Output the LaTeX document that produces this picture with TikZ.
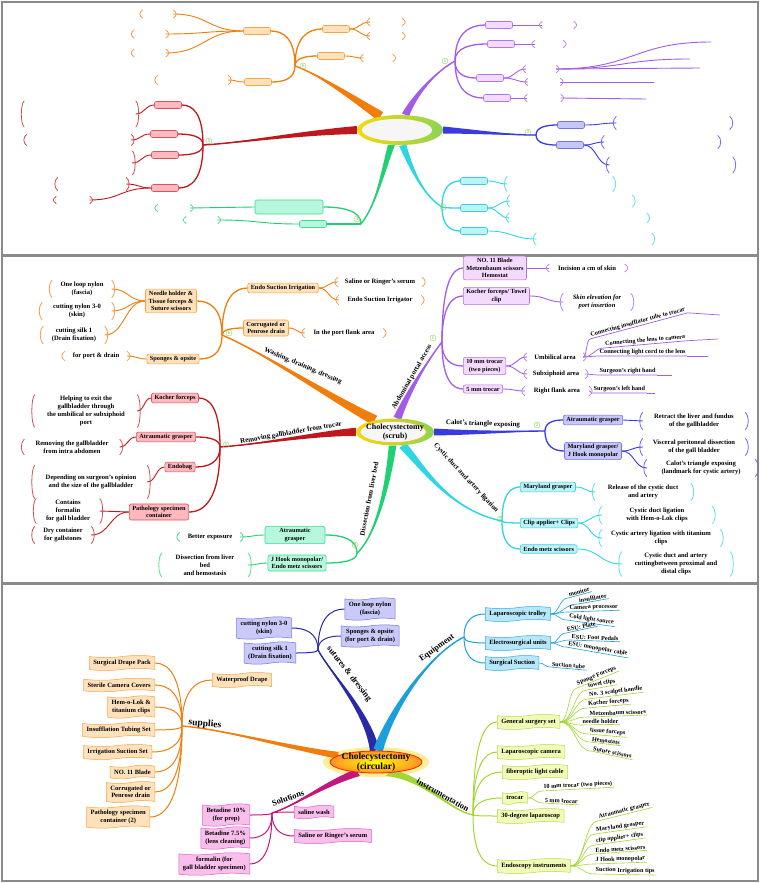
\documentclass[tikz,border=0pt]{standalone}
\usepackage{fontspec}
\setmainfont{Liberation Serif}
\usepackage{tikz}
\usetikzlibrary{calc,positioning,shapes.geometric,shapes.symbols,backgrounds}
\definecolor{clOr}{HTML}{F07D0C}
\definecolor{clOrF}{HTML}{FFE2BC}
\definecolor{clOrB}{HTML}{F5A449}
\definecolor{clRd}{HTML}{BE171D}
\definecolor{clRdF}{HTML}{FFB9BE}
\definecolor{clRdB}{HTML}{D9535C}
\definecolor{clGn}{HTML}{1FD173}
\definecolor{clGnF}{HTML}{B6F7DD}
\definecolor{clGnB}{HTML}{3FD98F}
\definecolor{clPu}{HTML}{A35CE8}
\definecolor{clPuF}{HTML}{F5DAFF}
\definecolor{clPuB}{HTML}{B374E6}
\definecolor{clBl}{HTML}{3A3ADF}
\definecolor{clBlF}{HTML}{C6C6F7}
\definecolor{clBlB}{HTML}{7272EA}
\definecolor{clCy}{HTML}{2ED6E3}
\definecolor{clCyF}{HTML}{BAF4F9}
\definecolor{clCyB}{HTML}{3FCBE0}
\definecolor{clNv}{HTML}{2A2AA6}
\definecolor{clNvF}{HTML}{C9C9FA}
\definecolor{clNvB}{HTML}{7474E0}
\definecolor{clEq}{HTML}{1C9FDB}
\definecolor{clEqF}{HTML}{B6E7FA}
\definecolor{clEqB}{HTML}{3CA7DA}
\definecolor{clMg}{HTML}{C4177B}
\definecolor{clMgF}{HTML}{F9BEEC}
\definecolor{clMgB}{HTML}{D862C2}
\definecolor{clIn}{HTML}{A3D632}
\definecolor{clInF}{HTML}{F1FAB6}
\definecolor{clInB}{HTML}{B6DC52}
\definecolor{clYe}{HTML}{F6D80E}
\definecolor{clLg}{HTML}{8CD455}
\definecolor{clNum}{HTML}{8FCF63}
\definecolor{clFrame}{HTML}{8A8A8A}
\newcommand\fntbox{\fontsize{6.3}{7.6}\selectfont\bfseries}
\newcommand\fntbrk{\fontsize{6.6}{7.8}\selectfont\bfseries}
\newcommand\fntleaf{\fontsize{6.2}{7}\selectfont\bfseries}
\newcommand\fnttape{\fontsize{6.5}{7.4}\selectfont\bfseries}
\newcommand\fntlbl{\fontsize{7}{8}\selectfont\bfseries}
\newcommand\fntbranch{\fontsize{8.5}{9}\selectfont\bfseries}
% tapered main branch: colour, start, control 1, control 2, hub, half width
\newcommand\taper[6]{%
  \fill[#1] ($(#2)+(#6)$) .. controls ($(#3)+0.5*(#6)$) and ($(#4)+0.15*(#6)$) .. (#5)
    .. controls ($(#4)-0.15*(#6)$) and ($(#3)-0.5*(#6)$) .. ($(#2)-(#6)$) -- cycle;
  \draw[#1, line width=1.4pt] (#2) .. controls (#3) and (#4) .. (#5);}
\tikzset{
  box/.style={rectangle, rounded corners=2pt, draw, line width=0.6pt, align=center,
              inner xsep=3pt, inner ysep=2pt, font=\fntbox},
  obox/.style={box, draw=clOrB, fill=clOrF},
  rbox/.style={box, draw=clRdB, fill=clRdF},
  gbox/.style={box, draw=clGnB, fill=clGnF},
  pbox/.style={box, draw=clPuB, fill=clPuF},
  bbox/.style={box, draw=clBlB, fill=clBlF},
  cbox/.style={box, draw=clCyB, fill=clCyF},
  stub/.style={minimum width=27pt, minimum height=7pt, inner sep=0pt},
  tapebox/.style={tape, tape bend top=in and out, tape bend bottom=in and out,
              tape bend height=2pt, draw, line width=0.5pt, align=center,
              inner xsep=4pt, inner ysep=2.5pt, font=\fnttape},
  navtape/.style={tapebox, draw=clNvB, fill=clNvF},
  eqtape/.style={tapebox, draw=clEqB, fill=clEqF},
  suptape/.style={tapebox, draw=clOrB, fill=clOrF},
  soltape/.style={tapebox, draw=clMgB, fill=clMgF},
  instape/.style={tapebox, draw=clInB, fill=clInF},
  brk/.style={align=center, inner xsep=3pt, inner ysep=1.5pt, font=\fntbrk,
              append after command={
                (\tikzlastnode.north west) edge[brkln=#1, lparen] (\tikzlastnode.south west)
                (\tikzlastnode.north east) edge[brkln=#1, rparen] (\tikzlastnode.south east)}},
  brkr/.style={align=center, inner sep=1.5pt,
              append after command={
                (\tikzlastnode.north east) edge[brkln=#1, rparen] (\tikzlastnode.south east)}},
  brkln/.style={draw=#1!75, line width=0.8pt},
  lparen/.style={to path={.. controls +(-4,3) and +(-4,-3) .. (\tikztotarget)}},
  rparen/.style={to path={.. controls +(4,3) and +(4,-3) .. (\tikztotarget)}},
  link/.style={draw=#1, line width=1.3pt},
  twig/.style={draw=#1, line width=0.9pt},
  elb/.style={to path={.. controls ($(\tikztostart)!0.8!(\tikztostart|-\tikztotarget)$)
              and ($(\tikztotarget)!0.5!(\tikztostart|-\tikztotarget)$) .. (\tikztotarget)}},
  scv/.style={to path={.. controls ($(\tikztostart)!0.5!(\tikztotarget|-\tikztostart)$)
              and ($(\tikztotarget)!0.5!(\tikztostart|-\tikztotarget)$) .. (\tikztotarget)}},
  num/.style={circle, draw=clNum, text=clNum, line width=0.4pt, inner sep=0pt,
              minimum size=6pt, font=\fontsize{4.5}{4.5}\selectfont\bfseries},
  blbl/.style={font=\fntlbl, inner sep=1pt},
  brlbl/.style={font=\fntbranch, inner sep=1pt},
  leaf/.style={font=\fntleaf, inner xsep=1.5pt, inner ysep=0.8pt, anchor=south west},
}
\begin{document}
\begin{tikzpicture}[x=1pt, y=-1pt]
  \useasboundingbox (0,0) rectangle (760,883);
  \draw[clFrame, line width=1.6pt] (2,2) rectangle (758,255);
  \draw[clFrame, line width=1.6pt] (2,256) rectangle (758,583);
  \draw[clFrame, line width=1.6pt] (2,584) rectangle (758,881);

  % ---------- panel 1: empty template ----------
  \node[ellipse, minimum width=86pt, minimum height=30pt, left color=clYe, right color=clLg,
    path picture={\fill[gray!7] ([xshift=-3pt]path picture bounding box.center) ellipse [x radius=35pt, y radius=11pt];}] (ctr1) at (400,130) {};
  \coordinate (h1o) at (295,66);  \coordinate (h1r) at (203,145);
  \coordinate (h1g) at (361,224); \coordinate (h1p) at (455,61);
  \coordinate (h1b) at (536,135); \coordinate (h1c) at (442,207);
  \node[num] (n1o) at (303,66) {6};  \node[num] (n1r) at (209,141) {5};
  \node[num] (n1g) at (357,219) {4}; \node[num] (n1p) at (445,61) {1};
  \node[num] (n1b) at (528,132) {2}; \node[num] (n1c) at (443,207) {3};
  \foreach \n/\x/\y in {b1o1/257/31, b1o2/336/29, b1o3/331/56, b1o4/258/82}
    \node[obox, stub] (\n) at (\x,\y) {};
  \foreach \n/\x/\y in {b1r1/168/105, b1r2/164/134, b1r3/165/155, b1r4/165/188}
    \node[rbox, stub] (\n) at (\x,\y) {};
  \node[gbox, stub, minimum width=68pt, minimum height=14pt] (b1g1) at (289,207) {};
  \node[gbox, stub] (b1g2) at (313,224) {};
  \foreach \n/\x/\y in {b1p1/499/25, b1p2/501/44, b1p3/490/78, b1p4/497/98}
    \node[pbox, stub] (\n) at (\x,\y) {};
  \foreach \n/\x/\y in {b1b1/571/125, b1b2/570/145}
    \node[bbox, stub] (\n) at (\x,\y) {};
  \foreach \n/\x/\y in {b1c1/474/181, b1c2/474/208, b1c3/474/231}
    \node[cbox, stub] (\n) at (\x,\y) {};
  \foreach \n/\x/\y/\w/\h in {k1o1a/158/14/30/8, k1o1b/150/34/31/8, k1o1c/150/53/31/8,
      k1o2a/386/22/32/7, k1o2b/386/36/32/7, k1o3/378/58/29/7, k1o4/193/80/70/9}
    \node[brk=clOr, minimum width=\w pt, minimum height=\h pt] (\n) at (\x,\y) {};
  \foreach \n/\x/\y/\w/\h in {k1r1/80/114/111/26, k1r2/79/140/104/11, k1r4a/92/184/68/13, k1r4b/73/200/33/7}
    \node[brk=clRd, minimum width=\w pt, minimum height=\h pt] (\n) at (\x,\y) {};
  \node[brkr=clRd, minimum width=84pt, minimum height=24pt] (k1r3) at (90,163) {};
  \foreach \n/\x/\y/\w/\h in {k1g1/174/208/32/7, k1g2/202/220/31/7}
    \node[brk=clGn, minimum width=\w pt, minimum height=\h pt] (\n) at (\x,\y) {};
  \foreach \n/\x/\y/\w/\h in {k1p1/558/25/31/7, k1p2/549/44/28/7, k1p3a/541/69/30/7, k1p3b/544/82/32/7, k1p4/544/98/33/7}
    \node[brk=clPu, minimum width=\w pt, minimum height=\h pt] (\n) at (\x,\y) {};
  \foreach \n/\x/\y/\w/\h in {k1b1/673/123/113/13, k1b2a/661/142/113/13, k1b2b/671/165/123/16}
    \node[brk=clBl, minimum width=\w pt, minimum height=\h pt] (\n) at (\x,\y) {};
  \foreach \n/\x/\y/\w/\h in {k1c1/560/184/105/15, k1c2a/571/201/122/12, k1c2b/578/218/137/10, k1c3/594/239/115/12}
    \node[brk=clCy, minimum width=\w pt, minimum height=\h pt] (\n) at (\x,\y) {};
  \coordinate (e1p1) at (711,42); \coordinate (e1p2) at (690,59); \coordinate (e1p3) at (700,68);
  \coordinate (e1p4) at (654,82); \coordinate (e1p5) at (646,99);

  % ---------- panel 2: scrub ----------
  \node[ellipse, minimum width=78pt, minimum height=27pt, left color=clYe, right color=clLg,
    path picture={\fill[gray!7] ([xshift=-2pt]path picture bounding box.center) ellipse [x radius=33pt, y radius=10.5pt];
      \draw[clYe!70!orange, line width=0.5pt] ([xshift=-2pt]path picture bounding box.center) ellipse [x radius=33pt, y radius=10.5pt];}] (ctr2) at (395,432) {};
  \node[font=\fontsize{8}{8.6}\selectfont\bfseries, align=center, inner sep=0pt] (t2c) at (ctr2) {Cholecystectomy\\(scrub)};
  \coordinate (h2o) at (222,335); \coordinate (h2r) at (220,447);
  \coordinate (h2g) at (357,553); \coordinate (h2p) at (442,342);
  \coordinate (h2b) at (545,431); \coordinate (h2c) at (502,521);
  \node[num] (n2o) at (229,333) {6}; \node[num] (n2r) at (226,445) {5};
  \node[num] (n2g) at (355,545) {4}; \node[num] (n2p) at (433,338) {1};
  \node[num] (n2b) at (537,425) {2}; \node[num] (n2c) at (500,519) {3};
  \node[blbl, rotate=-23] (t2o) at (303,366) {Washing, draining, dressing};
  \node[blbl, rotate=60] (t2p) at (412,377) {Abdominal portal access};
  \node[blbl, rotate=-2] (t2b) at (483,424) {Calot's triangle exposing};
  \node[blbl, rotate=-47] (t2cy) at (466,478) {Cystic duct and artery ligation};
  \node[blbl, rotate=79] (t2g) at (369,499) {Dissection from liver bed};
  \node[blbl, rotate=10] (t2r) at (291,433) {Removing gallbladder from trocar};
  % orange
  \node[obox] (b2o1) at (283,288) {Endo Suction Irrigation};
  \node[obox] (b2o2) at (266,328) {Corrugated or\\Penrose drain};
  \node[obox] (b2o3) at (171,301) {Needle holder \&\\Tissue forceps \&\\Suture scissors};
  \node[obox] (b2o4) at (173,359) {Sponges \& opsite};
  \node[brk=clOr, minimum width=84pt] (k2o1a) at (380,282) {Saline or Ringer's serum};
  \node[brk=clOr, minimum width=82pt] (k2o1b) at (380,300) {Endo Suction Irrigator};
  \node[brk=clOr, minimum width=78pt] (k2o2) at (344,333) {In the port flank area};
  \node[brk=clOr, minimum width=59pt] (k2o3a) at (82,289) {One loop nylon\\(fascia)};
  \node[brk=clOr, minimum width=69pt] (k2o3b) at (77,311) {cutting nylon 3-0\\(skin)};
  \node[brk=clOr, minimum width=61pt] (k2o3c) at (74,335) {cutting silk 1\\(Drain fixation)};
  \node[brk=clOr, minimum width=62pt] (k2o4) at (96,356) {for port \& drain};
  % red
  \node[rbox] (b2r1) at (175,398) {Kocher forceps};
  \node[rbox] (b2r2) at (166,437) {Atraumatic grasper};
  \node[rbox] (b2r3) at (180,467) {Endobag};
  \node[rbox] (b2r4) at (159,512) {Pathology specimen\\container};
  \node[brk=clRd, minimum width=102pt] (k2r1) at (86,411) {Helping to exit the\\gallbladder through\\the umbilical or subxiphoid\\port};
  \node[brk=clRd, minimum width=95pt] (k2r2) at (72,447) {Removing the gallbladder\\from intra abdomen};
  \node[brk=clRd, minimum width=112pt, minimum height=33pt] (k2r3) at (91,482) {Depending on surgeon's opinion\\and the size of the gallbladder};
  \node[brk=clRd, minimum width=63pt] (k2r4a) at (68,511) {Contains\\formalin\\for gall bladder};
  \node[brk=clRd, minimum width=56pt] (k2r4b) at (63,535) {Dry container\\for gallstones};
  % green
  \node[gbox, minimum width=60pt] (b2g1) at (295,535) {Atraumatic\\grasper};
  \node[gbox] (b2g2) at (297,563) {J Hook monopolar/\\Endo metz scissors};
  \node[brk=clGn, minimum width=60pt] (k2g1) at (210,537) {Better exposure};
  \node[brk=clGn, minimum width=86pt] (k2g2) at (205,565) {Dissection from liver\\bed\\and hemostasis};
  % purple
  \node[pbox, anchor=west] (b2p1) at (463,268) {NO. 11 Blade\\Metzenbaum scissors\\Hemostat};
  \node[pbox, anchor=west] (b2p2) at (463,296) {Kocher forceps/ Towel\\clip};
  \node[pbox, anchor=west] (b2p3) at (463,366) {10 mm trocar\\(two pieces)};
  \node[pbox, anchor=west] (b2p4) at (463,389) {5 mm trocar};
  \node[brk=clPu, minimum width=75pt] (k2p1) at (587,268) {Incision a cm of skin};
  \node[brk=clPu, minimum width=67pt, font=\fntbrk\itshape] (k2p2) at (597,302) {Skin elevation for\\port insertion};
  \node[brk=clPu, minimum width=56pt] (k2p3a) at (555,357) {Umbilical area};
  \node[brk=clPu, minimum width=58pt] (k2p3b) at (556,374) {Subxiphoid area};
  \node[brk=clPu, minimum width=64pt] (k2p4) at (557,391) {Right flank area};
  \node[leaf, rotate=15] (l2p1) at (590,339) {Connecting insufflator tube to trocar};
  \node[leaf, rotate=5] (l2p2) at (604,348) {Connecting the lens to camera};
  \node[leaf] (l2p3) at (598,356) {Connecting light cord to the lens};
  \node[leaf] (l2p4) at (598,375) {Surgeon's right hand};
  \node[leaf] (l2p5) at (592,393) {Surgeon's left hand};
  \coordinate (e2p1) at (720,315); \coordinate (e2p2) at (718,339); \coordinate (e2p3) at (708,356);
  \coordinate (e2p4) at (672,375); \coordinate (e2p5) at (655,393);
  % blue
  \node[bbox] (b2b1) at (593,420) {Atraumatic grasper};
  \node[bbox] (b2b2) at (593,451) {Maryland grasper/\\J Hook monopolar};
  \node[brk=clBl, minimum width=102pt] (k2b1) at (694,421) {Retract the liver and fundus\\of the gallbladder};
  \node[brk=clBl, minimum width=102pt] (k2b2a) at (694,447) {Visceral peritoneal dissection\\of the gall bladder};
  \node[brk=clBl, minimum width=108pt] (k2b2b) at (701,468) {Calot's triangle exposing\\(landmark for cystic artery)};
  % cyan
  \node[cbox, anchor=west] (b2c1) at (520,487) {Maryland grasper};
  \node[cbox, anchor=west] (b2c2) at (520,523) {Clip applier+ Clips};
  \node[cbox, anchor=west] (b2c3) at (520,549) {Endo metz scissors};
  \node[brk=clCy, minimum width=95pt] (k2c1) at (643,492) {Release of the cystic duct\\and artery};
  \node[brk=clCy, minimum width=110pt] (k2c2a) at (657,515) {Cystic duct ligation\\with Hem-o-Lok clips};
  \node[brk=clCy, minimum width=118pt] (k2c2b) at (661,538) {Cystic artery ligation with titanium\\clips};
  \node[brk=clCy, minimum width=108pt] (k2c3) at (676,564) {Cystic duct and artery\\cuttingbetween proximal and\\distal clips};

  % ---------- panel 3: circular ----------
  \node[ellipse, minimum width=92pt, minimum height=22pt, inner color=yellow!90!clYe, outer color=orange!85,
    draw=red!75!orange, line width=0.8pt] (ctr3) at (376,762) {};
  \node[font=\fontsize{9.5}{8.6}\selectfont\bfseries, align=center, inner sep=0pt] (t3c) at (ctr3) {Cholecystectomy\\(circular)};
  \coordinate (h3n) at (318,650); \coordinate (h3e) at (464,637);
  \coordinate (h3s) at (182,726); \coordinate (h3m) at (272,813);
  \coordinate (h3i) at (473,815);
  \node[brlbl, rotate=-52] (t3n) at (349,674) {sutures \& dressing};
  \node[brlbl, rotate=35] (t3e) at (437,648) {Equipment};
  \node[brlbl, rotate=-5, font=\fontsize{9.5}{10}\selectfont\bfseries] (t3s) at (205,724) {supplies};
  \node[brlbl, rotate=19] (t3m) at (288,798) {Solutions};
  \node[brlbl, rotate=-30] (t3i) at (443,795) {instrumentation};
  \node[navtape] (b3n1) at (370,609) {One loop nylon\\(fascia)};
  \node[navtape] (b3n2) at (370,636) {Sponges \& opsite\\(for port \& drain)};
  \node[navtape] (b3n3) at (264,628) {cutting nylon 3-0\\(skin)};
  \node[navtape] (b3n4) at (270,653) {cutting silk 1\\(Drain fixation)};
  \node[eqtape, anchor=west] (b3e1) at (485,614) {Laparoscopic trolley};
  \node[eqtape, anchor=west] (b3e2) at (485,643) {Electrosurgical units};
  \node[eqtape, anchor=west] (b3e3) at (485,663) {Surgical Suction};
  \node[suptape, anchor=west] (b3s0) at (212,680) {Waterproof Drape};
  \node[suptape, anchor=east] (b3s1) at (155,663) {Surgical Drape Pack};
  \node[suptape, anchor=east] (b3s2) at (155,685) {Sterile Camera Covers};
  \node[suptape, anchor=east] (b3s3) at (155,707) {Hem-o-Lok \&\\titanium clips};
  \node[suptape, anchor=east] (b3s4) at (155,730) {Insufflation Tubing Set};
  \node[suptape, anchor=east] (b3s5) at (152,752) {Irrigation Suction Set};
  \node[suptape, anchor=east] (b3s6) at (155,772) {NO. 11 Blade};
  \node[suptape, anchor=east] (b3s7) at (155,792) {Corrugated or\\Penrose drain};
  \node[suptape, anchor=east] (b3s8) at (150,817) {Pathology specimen\\container (2)};
  \node[soltape, anchor=west] (b3m1) at (294,812) {saline wash};
  \node[soltape, anchor=west] (b3m2) at (294,836) {Saline or Ringer's serum};
  \node[soltape, anchor=east] (b3m3) at (250,815) {Betadine 10\%\\(for prep)};
  \node[soltape, anchor=east] (b3m4) at (250,838) {Betadine 7.5\%\\(lens cleaning)};
  \node[soltape, anchor=east] (b3m5) at (250,864) {formalin (for\\gall bladder specimen)};
  \node[instape, anchor=west] (b3i1) at (497,722) {General surgery set};
  \node[instape, anchor=west] (b3i2) at (497,752) {Laparoscopic camera};
  \node[instape, anchor=west] (b3i3) at (502,772) {fiberoptic light cable};
  \node[instape, anchor=west] (b3i4) at (502,798) {trocar};
  \node[instape, anchor=west] (b3i5) at (497,816) {30-degree laparoscop};
  \node[instape, anchor=west] (b3i6) at (497,866) {Endoscopy instruments};
  % leaves of panel 3
  \foreach \t/\x/\y/\r [count=\i] in {monitor/568/598/15, insufflator/578/604/10,
      Camera processor/568/612/2, Cold light source/567/620/-8}{
    \node[leaf, rotate=\r] (l3e\i) at (\x,\y) {\t};
    \draw[twig=clEq, line width=0.6pt] (b3e1.east) to[scv] (l3e\i.south west) -- (l3e\i.south east);}
  \foreach \t/\x/\y/\r [count=\i] in {ESU: Plate/566/633/12, ESU: Foot Pedals/570/640/-2,
      ESU: monopolar cable/566/647/-10}{
    \node[leaf, rotate=\r] (l3f\i) at (\x,\y) {\t};
    \draw[twig=clEq, line width=0.6pt] (b3e2.east) to[scv] (l3f\i.south west) -- (l3f\i.south east);}
  \node[leaf, rotate=-5] (l3g1) at (550,667) {Suction tube};
  \draw[twig=clEq, line width=0.6pt] (b3e3.east) to[scv] (l3g1.south west) -- (l3g1.south east);
  \foreach \t/\x/\y/\r [count=\i] in {Sponge Forceps/577/688/22, towel clips/587/690/10,
      No. 3 scalpel handle/588/699/7, Kocher forceps/587/708/5, Metzenbaum scissors/588/717/2,
      needle holder/581/725/1, tissue forceps/588/734/-5, Hemostats/590/742/-7,
      Suture scissors/591/751/-12}{
    \node[leaf, rotate=\r] (l3k\i) at (\x,\y) {\t};
    \draw[twig=clIn, line width=0.6pt] (b3i1.east) to[scv] (l3k\i.south west) -- (l3k\i.south east);}
  \foreach \t/\x/\y/\r [count=\i] in {10 mm trocar (two pieces)/542/791/3, 5 mm trocar/543/803/-3}{
    \node[leaf, rotate=\r] (l3t\i) at (\x,\y) {\t};
    \draw[twig=clIn, line width=0.6pt] (b3i4.east) to[scv] (l3t\i.south west) -- (l3t\i.south east);}
  \foreach \t/\x/\y/\r [count=\i] in {Atraumatic grasper/598/821/14, Maryland grasper/595/834/8,
      clip applier+ clips/595/845/8, Endo metz scissors/594/854/4, J Hook monopolar/594/864/2,
      Suction Irrigation tips/594/874/-1}{
    \node[leaf, rotate=\r] (l3x\i) at (\x,\y) {\t};
    \draw[twig=clIn, line width=0.6pt] (b3i6.east) to[scv] (l3x\i.south west) -- (l3x\i.south east);}

  % ---------- connectors ----------
  \begin{scope}[on background layer]
    % panel 1
    \taper{clOr}{ctr1.145}{350,96}{318,74}{h1o}{2.5,-4.3}
    \taper{clRd}{ctr1.180}{300,133}{240,143}{h1r}{0,4}
    \taper{clGn}{ctr1.-120}{382,175}{376,205}{h1g}{3.5,0}
    \taper{clPu}{ctr1.70}{415,95}{435,72}{h1p}{3.5,1.5}
    \taper{clBl}{ctr1.0}{480,132}{510,135}{h1b}{0,3.5}
    \taper{clCy}{ctr1.-80}{410,165}{422,195}{h1c}{3.5,-1}
    \foreach \b in {b1o1.east, b1o2.west, b1o3.west, b1o4.east} \draw[link=clOr] (h1o) to[elb] (\b);
    \foreach \b in {b1r1.east, b1r2.east, b1r3.east, b1r4.east} \draw[link=clRd] (h1r) to[elb] (\b);
    \foreach \b in {b1g1.east, b1g2.east} \draw[link=clGn] (h1g) to[elb] (\b);
    \foreach \b in {b1p1.west, b1p2.west, b1p3.west, b1p4.west} \draw[link=clPu] (h1p) to[elb] (\b);
    \foreach \b in {b1b1.west, b1b2.west} \draw[link=clBl] (h1b) to[elb] (\b);
    \foreach \b in {b1c1.west, b1c2.west, b1c3.west} \draw[link=clCy] (h1c) to[elb] (\b);
    \foreach \a/\b in {b1o1.west/k1o1a.east, b1o1.west/k1o1b.east, b1o1.west/k1o1c.east,
        b1o2.east/k1o2a.west, b1o2.east/k1o2b.west, b1o3.east/k1o3.west, b1o4.west/k1o4.east}
      \draw[twig=clOr] (\a) to[scv] (\b);
    \foreach \a/\b in {b1r1.west/k1r1.east, b1r2.west/k1r2.east, b1r3.west/k1r3.east,
        b1r4.west/k1r4a.east, b1r4.west/k1r4b.east}
      \draw[twig=clRd] (\a) to[scv] (\b);
    \foreach \a/\b in {b1g1.west/k1g1.east, b1g2.west/k1g2.east}
      \draw[twig=clGn] (\a) to[scv] (\b);
    \foreach \a/\b in {b1p1.east/k1p1.west, b1p2.east/k1p2.west, b1p3.east/k1p3a.west,
        b1p3.east/k1p3b.west, b1p4.east/k1p4.west, k1p3a.east/e1p1, k1p3a.east/e1p2,
        k1p3a.east/e1p3, k1p3b.east/e1p4, k1p4.east/e1p5}
      \draw[twig=clPu] (\a) to[scv] (\b);
    \foreach \a/\b in {b1b1.east/k1b1.west, b1b2.east/k1b2a.west, b1b2.east/k1b2b.west}
      \draw[twig=clBl] (\a) to[scv] (\b);
    \foreach \a/\b in {b1c1.east/k1c1.west, b1c2.east/k1c2a.west, b1c2.east/k1c2b.west, b1c3.east/k1c3.west}
      \draw[twig=clCy] (\a) to[scv] (\b);
    % panel 2
    \taper{clOr}{ctr2.150}{330,397}{262,352}{h2o}{2.6,-4.5}
    \taper{clPu}{ctr2.80}{408,392}{428,360}{h2p}{3.8,1.5}
    \taper{clBl}{ctr2.0}{480,433}{520,431}{h2b}{0,3.5}
    \taper{clCy}{ctr2.-60}{425,470}{450,510}{h2c}{3.5,-2.5}
    \taper{clGn}{ctr2.-100}{386,500}{372,540}{h2g}{3.8,0}
    \taper{clRd}{ctr2.180}{320,433}{262,444}{h2r}{0,4.2}
    \foreach \b in {b2o1.west, b2o2.west, b2o3.east, b2o4.east} \draw[link=clOr] (h2o) to[elb] (\b);
    \foreach \b in {b2r1.east, b2r2.east, b2r3.east, b2r4.east} \draw[link=clRd] (h2r) to[elb] (\b);
    \foreach \b in {b2g1.east, b2g2.east} \draw[link=clGn] (h2g) to[elb] (\b);
    \foreach \b in {b2p1.west, b2p2.west, b2p3.west, b2p4.west} \draw[link=clPu] (h2p) to[elb] (\b);
    \foreach \b in {b2b1.west, b2b2.west} \draw[link=clBl] (h2b) to[elb] (\b);
    \foreach \b in {b2c1.west, b2c2.west, b2c3.west} \draw[link=clCy] (h2c) to[elb] (\b);
    \foreach \a/\b in {b2o1.east/k2o1a.west, b2o1.east/k2o1b.west, b2o2.east/k2o2.west,
        b2o3.west/k2o3a.east, b2o3.west/k2o3b.east, b2o3.west/k2o3c.east, b2o4.west/k2o4.east}
      \draw[twig=clOr] (\a) to[scv] (\b);
    \foreach \a/\b in {b2r1.west/k2r1.east, b2r2.west/k2r2.east, b2r3.west/k2r3.east,
        b2r4.west/k2r4a.east, b2r4.west/k2r4b.east}
      \draw[twig=clRd] (\a) to[scv] (\b);
    \foreach \a/\b in {b2g1.west/k2g1.east, b2g2.west/k2g2.east}
      \draw[twig=clGn] (\a) to[scv] (\b);
    \foreach \a/\b in {b2p1.east/k2p1.west, b2p2.east/k2p2.west, b2p3.east/k2p3a.west,
        b2p3.east/k2p3b.west, b2p4.east/k2p4.west}
      \draw[twig=clPu] (\a) to[scv] (\b);
    \foreach \a/\b in {b2b1.east/k2b1.west, b2b2.east/k2b2a.west, b2b2.east/k2b2b.west}
      \draw[twig=clBl] (\a) to[scv] (\b);
    \foreach \a/\b in {b2c1.east/k2c1.west, b2c2.east/k2c2a.west, b2c2.east/k2c2b.west, b2c3.east/k2c3.west}
      \draw[twig=clCy] (\a) to[scv] (\b);
    \foreach \k/\l in {k2p3a/l2p1, k2p3a/l2p2, k2p3a/l2p3, k2p3b/l2p4, k2p4/l2p5}
      \draw[twig=clPu, line width=0.7pt] (\k.east) to[scv] (\l.south west) -- (\l.south east);
    \foreach \l/\e in {l2p1/e2p1, l2p2/e2p2, l2p3/e2p3, l2p4/e2p4, l2p5/e2p5}
      \draw[twig=clPu, line width=0.7pt] (\l.south east) -- (\e);
    % panel 3
    \fill[clYe!55, opacity=0.8] (ctr3.center) ellipse [x radius=53pt, y radius=15pt];
    \taper{clNv}{ctr3.97}{368,712}{330,672}{h3n}{4.5,-1.5}
    \taper{clEq}{ctr3.80}{390,712}{428,655}{h3e}{4.5,2}
    \taper{clOr}{ctr3.170}{290,748}{222,729}{h3s}{0,3.5}
    \taper{clMg}{ctr3.-150}{322,785}{295,806}{h3m}{2,3.5}
    \taper{clIn}{ctr3.-40}{425,778}{448,810}{h3i}{3.5,-3}
    \foreach \b in {b3n1.west, b3n2.west, b3n3.east, b3n4.east} \draw[link=clNv, line width=1pt] (h3n) to[elb] (\b);
    \foreach \b in {b3e1.west, b3e2.west, b3e3.west} \draw[link=clEq, line width=1pt] (h3e) to[elb] (\b);
    \foreach \b in {b3s0.west, b3s1.east, b3s2.east, b3s3.east, b3s4.east, b3s5.east,
        b3s6.east, b3s7.east, b3s8.east} \draw[link=clOr, line width=1pt] (h3s) to[elb] (\b);
    \foreach \b in {b3m1.west, b3m2.west, b3m3.east, b3m4.east, b3m5.east} \draw[link=clMg, line width=1pt] (h3m) to[elb] (\b);
    \foreach \b in {b3i1.west, b3i2.west, b3i3.west, b3i4.west, b3i5.west, b3i6.west} \draw[link=clIn, line width=1pt] (h3i) to[elb] (\b);
  \end{scope}
\end{tikzpicture}
\end{document}
